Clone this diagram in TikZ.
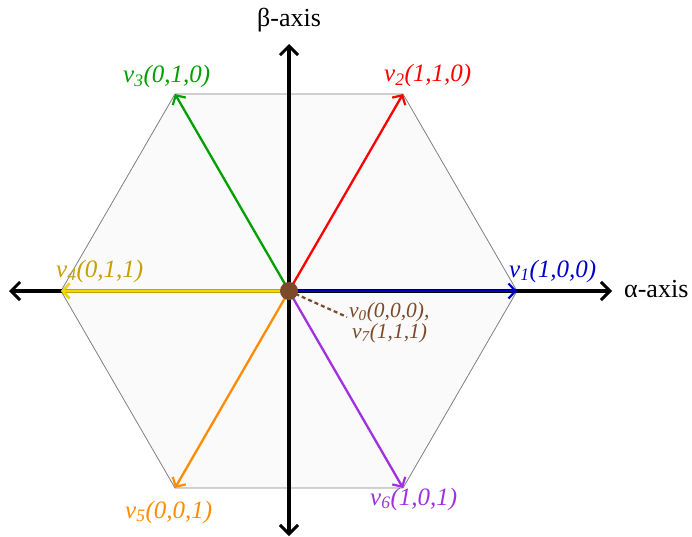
\documentclass[tikz,border=0pt]{standalone}
\usepackage{fontspec}
\setmainfont{Liberation Serif}
\usetikzlibrary{arrows.meta}
\definecolor{vblue}{HTML}{0000CC}
\definecolor{vred}{HTML}{FF0000}
\definecolor{vgreen}{HTML}{00A000}
\definecolor{vgold}{HTML}{C8A000}
\definecolor{vyellow}{HTML}{F0D800}
\definecolor{vorange}{HTML}{FF8C00}
\definecolor{vpurple}{HTML}{A030E0}
\definecolor{vbrown}{HTML}{7B4A2A}
\tikzset{
  axis/.style={line width=3.2pt, -{Straight Barb[length=9pt,width=18pt,line width=3pt]}},
  vec/.style={line width=2.3pt, -{Straight Barb[length=7pt,width=15pt,line width=2.2pt]}},
  hexline/.style={draw=gray, line width=0.8pt},
  lab/.style={font=\fontsize{25}{28}\selectfont\itshape, inner sep=0pt},
  blab/.style={font=\fontsize{21.5}{24}\selectfont\itshape, inner sep=0pt},
  axlab/.style={font=\fontsize{26}{29}\selectfont, inner sep=0pt}
}
\begin{document}
\begin{tikzpicture}[x=1pt,y=-1pt]
\useasboundingbox (0,0) rectangle (692,537);
\coordinate (O) at (289,291);
\coordinate (P1) at (517,291);
\coordinate (P2) at (403,94);
\coordinate (P3) at (175,94);
\coordinate (P4) at (61,291);
\coordinate (P5) at (175,488);
\coordinate (P6) at (403,488);
\coordinate (XL) at (9,291);
\coordinate (XR) at (612,291);
\coordinate (YT) at (289,44);
\coordinate (YB) at (289,536);
\coordinate (D) at (347,317);
% hexagon
\fill[black!2] (P1) -- (P2) -- (P3) -- (P4) -- (P5) -- (P6) -- cycle;
\draw[hexline] (P1) -- (P2) -- (P3) -- (P4) -- (P5) -- (P6) -- cycle;
% axes
\draw[axis] (O) -- (XR);
\draw[axis] (O) -- (XL);
\draw[axis] (O) -- (YT);
\draw[axis] (O) -- (YB);
% vectors
\draw[vec, vgold, line width=3.6pt, -{Straight Barb[length=7pt,width=15pt,line width=2.2pt]}] (O) -- (P4);
\draw[vec, vyellow, line width=1.4pt, -{Straight Barb[length=7pt,width=15pt,line width=2.2pt]}] (O) -- (P4);
\draw[vec, vblue, line width=2.8pt] (O) -- (P1);
\draw[vec, vred] (O) -- (P2);
\draw[vec, vgreen] (O) -- (P3);
\draw[vec, vorange] (O) -- (P5);
\draw[vec, vpurple] (O) -- (P6);
% zero vector
\draw[vbrown, line width=2.2pt, dash pattern=on 4pt off 3pt] (O) -- (D);
\node[circle, fill=vbrown, minimum size=18pt, inner sep=0pt] (zero) at (O) {};
% labels
\node[axlab, anchor=base west] (alab) at (624,297) {α-axis};
\node[axlab, anchor=base] (blab) at (289,27) {β-axis};
\node[lab, text=vblue, anchor=base west] (l1) at (509,277) {v\textsubscript{1}(1,0,0)};
\node[lab, text=vred, anchor=base west] (l2) at (384,82) {v\textsubscript{2}(1,1,0)};
\node[lab, text=vgreen, anchor=base west] (l3) at (123,83) {v\textsubscript{3}(0,1,0)};
\node[lab, text=vgold, anchor=base west] (l4) at (56,277) {v\textsubscript{4}(0,1,1)};
\node[lab, text=vorange, anchor=base west] (l5) at (125,518) {v\textsubscript{5}(0,0,1)};
\node[lab, text=vpurple, anchor=base west] (l6) at (370,505) {v\textsubscript{6}(1,0,1)};
\node[blab, text=vbrown, anchor=base west] (l0) at (349,317) {v\textsubscript{0}(0,0,0),};
\node[blab, text=vbrown, anchor=base west] (l7) at (352,338) {v\textsubscript{7}(1,1,1)};
\end{tikzpicture}
\end{document}
